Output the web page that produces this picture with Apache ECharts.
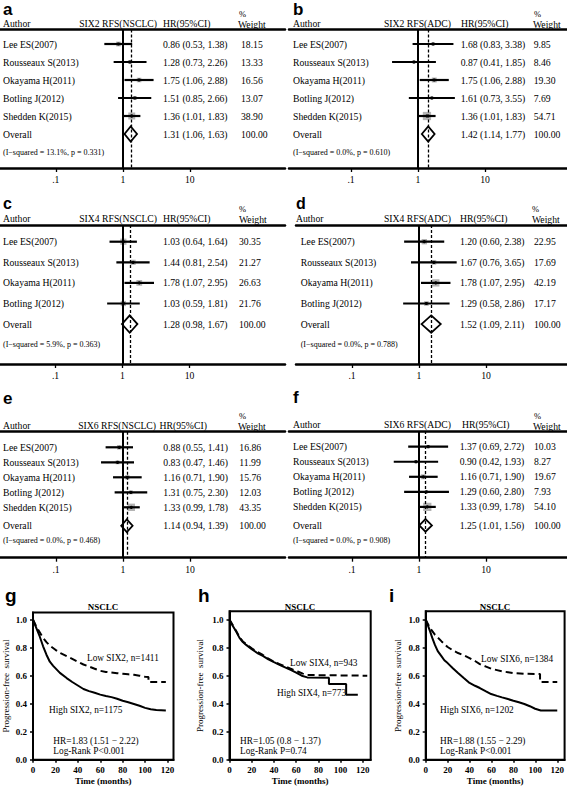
<!DOCTYPE html>
<html><head><meta charset="utf-8">
<script src="https://cdn.jsdelivr.net/npm/echarts@6/dist/echarts.min.js"></script>
<style>html,body{margin:0;padding:0;background:#fff}#c{width:567px;height:788px}</style>
</head><body><div id="c"></div>
<script>
// ---------------- Forest plot data ----------------
const studies5 = ['Lee ES(2007)','Rousseaux S(2013)','Okayama H(2011)','Botling J(2012)','Shedden K(2015)'];
const studies4 = ['Lee ES(2007)','Rousseaux S(2013)','Okayama H(2011)','Botling J(2012)'];
const forestTicks = [0.1, 1, 10];
const forestTickLabels = ['.1', '1', '10'];
const overallWeight = 100.00;

// a: SIX2 RFS(NSCLC)
const aHR = [0.86, 1.28, 1.75, 1.51, 1.36];
const aLo = [0.53, 0.73, 1.06, 0.85, 1.01];
const aHi = [1.38, 2.26, 2.88, 2.66, 1.83];
const aW  = [18.15, 13.33, 16.56, 13.07, 38.90];
const aOverall = [1.31, 1.06, 1.63];
const aHet = '(I\u2212squared = 13.1%, p = 0.331)';
// b: SIX2 RFS(ADC)
const bHR = [1.68, 0.87, 1.75, 1.61, 1.36];
const bLo = [0.83, 0.41, 1.06, 0.73, 1.01];
const bHi = [3.38, 1.85, 2.88, 3.55, 1.83];
const bW  = [9.85, 8.46, 19.30, 7.69, 54.71];
const bOverall = [1.42, 1.14, 1.77];
const bHet = '(I\u2212squared = 0.0%, p = 0.610)';
// c: SIX4 RFS(NSCLC)
const cHR = [1.03, 1.44, 1.78, 1.03];
const cLo = [0.64, 0.81, 1.07, 0.59];
const cHi = [1.64, 2.54, 2.95, 1.81];
const cW  = [30.35, 21.27, 26.63, 21.76];
const cOverall = [1.28, 0.98, 1.67];
const cHet = '(I\u2212squared = 5.9%, p = 0.363)';
// d: SIX4 RFS(ADC)
const dHR = [1.20, 1.67, 1.78, 1.29];
const dLo = [0.60, 0.76, 1.07, 0.58];
const dHi = [2.38, 3.65, 2.95, 2.86];
const dW  = [22.95, 17.69, 42.19, 17.17];
const dOverall = [1.52, 1.09, 2.11];
const dHet = '(I\u2212squared = 0.0%, p = 0.788)';
// e: SIX6 RFS(NSCLC)
const eHR = [0.88, 0.83, 1.16, 1.31, 1.33];
const eLo = [0.55, 0.47, 0.71, 0.75, 0.99];
const eHi = [1.41, 1.46, 1.90, 2.30, 1.78];
const eW  = [16.86, 11.99, 15.76, 12.03, 43.35];
const eOverall = [1.14, 0.94, 1.39];
const eHet = '(I\u2212squared = 0.0%, p = 0.468)';
// f: SIX6 RFS(ADC)
const fHR = [1.37, 0.90, 1.16, 1.29, 1.33];
const fLo = [0.69, 0.42, 0.71, 0.60, 0.99];
const fHi = [2.72, 1.93, 1.90, 2.80, 1.78];
const fW  = [10.03, 8.27, 19.67, 7.93, 54.10];
const fOverall = [1.25, 1.01, 1.56];
const fHet = '(I\u2212squared = 0.0%, p = 0.908)';

// ---------------- Kaplan-Meier data ----------------
const kmXTicks = [0, 20, 40, 60, 80, 100, 120];
const kmYTicks = [0, 0.2, 0.4, 0.6, 0.8, 1.0];
const gLowT  = [0, 3, 6, 9, 12, 15, 20, 25, 30, 35, 40, 45, 50, 55, 60, 65, 70, 75, 80, 85, 90, 95, 100, 103, 103, 118.5];
const gLowS  = [1.0, 0.95, 0.91, 0.87, 0.84, 0.815, 0.785, 0.76, 0.74, 0.72, 0.70, 0.68, 0.665, 0.65, 0.635, 0.627, 0.622, 0.618, 0.614, 0.61, 0.606, 0.60, 0.592, 0.59, 0.555, 0.555];
const gHighT = [0, 2, 4, 6, 9, 12, 15, 18, 21, 24, 30, 35, 40, 45, 50, 55, 60, 65, 70, 75, 80, 85, 90, 95, 100, 105, 110, 118.5];
const gHighS = [1.0, 0.96, 0.92, 0.88, 0.81, 0.75, 0.70, 0.67, 0.645, 0.62, 0.583, 0.555, 0.53, 0.505, 0.49, 0.478, 0.465, 0.455, 0.447, 0.435, 0.421, 0.41, 0.398, 0.385, 0.37, 0.36, 0.355, 0.352];
const hLowT  = [0, 3, 6, 9, 12, 15, 20, 25, 30, 35, 40, 45, 50, 55, 58, 62, 66, 70, 124];
const hLowS  = [1.0, 0.96, 0.92, 0.875, 0.845, 0.825, 0.795, 0.77, 0.748, 0.722, 0.70, 0.683, 0.666, 0.65, 0.64, 0.628, 0.615, 0.605, 0.60];
const hHighT = [0, 3, 6, 9, 12, 15, 20, 25, 30, 35, 40, 45, 50, 55, 60, 65, 70, 89.5, 89.5, 105, 105, 115.5];
const hHighS = [1.0, 0.955, 0.915, 0.87, 0.84, 0.82, 0.79, 0.762, 0.742, 0.717, 0.697, 0.678, 0.66, 0.642, 0.622, 0.60, 0.588, 0.585, 0.54, 0.54, 0.464, 0.464];
const iLowT  = [0, 2, 4, 8.4, 14.5, 20, 25, 29.5, 35, 40, 45, 49.4, 55, 59.7, 65, 69.6, 75, 80, 90, 104.3, 104.3, 120];
const iLowS  = [1.0, 0.97, 0.94, 0.893, 0.845, 0.805, 0.78, 0.762, 0.745, 0.726, 0.705, 0.683, 0.665, 0.65, 0.64, 0.631, 0.625, 0.619, 0.614, 0.612, 0.555, 0.555];
const iHighT = [0, 2, 4, 6, 8.4, 11, 14.5, 17, 20, 25, 29.5, 35, 40, 45, 49.4, 55, 59.7, 65, 69.6, 75, 80, 85, 90, 95, 99.8, 105, 120];
const iHighS = [1.0, 0.96, 0.917, 0.87, 0.82, 0.775, 0.738, 0.71, 0.69, 0.652, 0.62, 0.582, 0.548, 0.528, 0.512, 0.488, 0.469, 0.456, 0.445, 0.433, 0.421, 0.41, 0.398, 0.382, 0.364, 0.352, 0.352];

// ---------------- Layout ----------------
const SERIF = '"Liberation Serif","Times New Roman",serif';
const SANS = '"Liberation Sans",Arial,sans-serif';
const DEC = 67; // px per decade on forest axes

const forestPanels = [
  {letter:'a', title:'SIX2 RFS(NSCLC)', studies:studies5, hr:aHR, lo:aLo, hi:aHi, w:aW, overall:aOverall, het:aHet,
   L:{left:0, right:285, top:29.5, bottom:168, xOne:122.8, row0:44, step:18, rows:[0,1,2,3,4,5,6], cols:[3,163,241],
      letterXY:[3,9], letterSize:17, authorXY:[3,23], titleR:157, hrHead:163, pctXY:[239,14], wXY:[238,24]}},
  {letter:'b', title:'SIX2 RFS(ADC)', studies:studies5, hr:bHR, lo:bLo, hi:bHi, w:bW, overall:bOverall, het:bHet,
   L:{left:289, right:567, top:29.5, bottom:168, xOne:418, row0:44, step:18, rows:[0,1,2,3,4,5,6], cols:[293,460.7,533.7],
      letterXY:[293,9], letterSize:17, authorXY:[293,23], titleR:451, hrHead:461, pctXY:[534,14], wXY:[533,24]}},
  {letter:'c', title:'SIX4 RFS(NSCLC)', studies:studies4, hr:cHR, lo:cLo, hi:cHi, w:cW, overall:cOverall, het:cHet,
   L:{left:0, right:285, top:225, bottom:364, xOne:122.5, row0:241.7, step:20.6, rows:[0,1,2,3,4,5], cols:[3,163,239],
      letterXY:[3,203], letterSize:16, authorXY:[3,218.5], titleR:157, hrHead:163, pctXY:[239,209], wXY:[239,219]}},
  {letter:'d', title:'SIX4 RFS(ADC)', studies:studies4, hr:dHR, lo:dLo, hi:dHi, w:dW, overall:dOverall, het:dHet,
   L:{left:296, right:567, top:225, bottom:364, xOne:419, row0:241.7, step:20.6, rows:[0,1,2,3,4,5], cols:[300.7,460,534],
      letterXY:[296,203], letterSize:16, authorXY:[296,218.5], titleR:451, hrHead:460, pctXY:[532,209], wXY:[532,219]}},
  {letter:'e', title:'SIX6 RFS(NSCLC)', studies:studies5, hr:eHR, lo:eLo, hi:eHi, w:eW, overall:eOverall, het:eHet,
   L:{left:0, right:285, top:431.7, bottom:557.7, xOne:123, row0:447.3, step:15, rows:[0,1,2,3,4,5.23,6.23], cols:[3,163.3,239.3],
      letterXY:[3,398], letterSize:17, authorXY:[3,425], titleR:156, hrHead:159.5, pctXY:[239,416], wXY:[238,426.5]}},
  {letter:'f', title:'SIX6 RFS(ADC)', studies:studies5, hr:fHR, lo:fLo, hi:fHi, w:fW, overall:fOverall, het:fHet,
   L:{left:289, right:567, top:431, bottom:557.7, xOne:419, row0:446.7, step:15.05, rows:[0,1,2,3,4,5.23,6.23], cols:[293,459.7,534],
      letterXY:[293,397], letterSize:17, authorXY:[293,424.3], titleR:451, hrHead:462, pctXY:[534,416], wXY:[533,426]}}
];

const kmPanels = [
  {letter:'g', low:[gLowT,gLowS], high:[gHighT,gHighS], lowText:'Low SIX2, n=1411', highText:'High SIX2, n=1175', hrText:'HR=1.83 (1.51 \u2212 2.22)', pText:'Log-Rank P<0.001',
   L:{left:32.5, right:173.5, top:612.5, bottom:759.7, pxPerMonth:1.125, letterXY:[5,595], titleX:103, nameGap:23,
      lowXY:[87,658], highXY:[49,709.7], hrXY:[53.3,741.3], pXY:[53.3,750.7]}},
  {letter:'h', low:[hLowT,hLowS], high:[hHighT,hHighS], lowText:'Low SIX4, n=943', highText:'High SIX4, n=773', hrText:'HR=1.05 (0.8 \u2212 1.37)', pText:'Log-Rank P=0.74',
   L:{left:229.5, right:370.7, top:611.3, bottom:759.7, pxPerMonth:1.111, letterXY:[198,595], titleX:300, nameGap:25,
      lowXY:[290,663], highXY:[277,693], hrXY:[240,741.3], pXY:[240,750.7]}},
  {letter:'i', low:[iLowT,iLowS], high:[iHighT,iHighS], lowText:'Low SIX6, n=1384', highText:'High SIX6, n=1202', hrText:'HR=1.88 (1.55 \u2212 2.29)', pText:'Log-Rank P<0.001',
   L:{left:425.7, right:565.7, top:611.3, bottom:759.7, pxPerMonth:1.105, letterXY:[389,595], titleX:495, nameGap:23.5,
      lowXY:[481,658.7], highXY:[440,709.7], hrXY:[440,741.3], pXY:[440,750.7]}}
];
const kmPxPerUnit = 140; // px per survival unit

// ---------------- Build option ----------------
const grids = [], xAxes = [], yAxes = [], series = [], graphics = [];
function T(x, y, text, o) {
  graphics.push({type:'text', x:x, y:y, silent:true,
    style:Object.assign({text:text, fill:'#000', fontFamily:SERIF, fontSize:9.7, verticalAlign:'middle', align:'left'}, o || {})});
}
const fmtCI = (h, l, u) => h.toFixed(2) + ' (' + l.toFixed(2) + ', ' + u.toFixed(2) + ')';

function addForest(p) {
  const L = p.L, gi = grids.length;
  grids.push({left:L.left, top:L.top, width:L.right - L.left, height:L.bottom - L.top});
  const xmin = -(L.xOne - L.left) / DEC, xmax = (L.right - L.xOne) / DEC;
  const ymin = -(L.row0 - L.top) / L.step, ymax = (L.bottom - L.row0) / L.step;
  const tickVals = forestTicks.map(v => Math.log10(v));
  const xi = xAxes.length;
  xAxes.push({gridIndex:gi, type:'value', position:'bottom', min:xmin, max:xmax,
    axisLine:{onZero:false, lineStyle:{color:'#000', width:2.5}},
    axisTick:{customValues:tickVals, length:4, lineStyle:{color:'#000', width:1.3}},
    axisLabel:{customValues:tickVals, margin:6.5, color:'#000', fontFamily:SERIF, fontSize:9.7,
      formatter:v => { const k = tickVals.findIndex(t => Math.abs(t - v) < 1e-6); return k >= 0 ? forestTickLabels[k] : ''; }},
    splitLine:{show:false}});
  xAxes.push({gridIndex:gi, type:'value', position:'top', min:xmin, max:xmax,
    axisLine:{onZero:false, lineStyle:{color:'#000', width:2.5}}, axisTick:{show:false}, axisLabel:{show:false}, splitLine:{show:false}});
  const yi = yAxes.length;
  yAxes.push({gridIndex:gi, type:'value', inverse:true, min:ymin, max:ymax, show:false});

  const items = [];
  p.hr.forEach((h, i) => items.push({name:p.studies[i], hrText:fmtCI(h, p.lo[i], p.hi[i]), wText:p.w[i].toFixed(2),
    value:[Math.log10(h), Math.log10(p.lo[i]), Math.log10(p.hi[i]), p.w[i], L.rows[i], 0]}));
  const n = p.hr.length;
  items.push({name:'Overall', hrText:fmtCI(p.overall[0], p.overall[1], p.overall[2]), wText:overallWeight.toFixed(2),
    value:[Math.log10(p.overall[0]), Math.log10(p.overall[1]), Math.log10(p.overall[2]), overallWeight, L.rows[n], 1]});
  items.push({name:p.het, hrText:'', wText:'', value:[0, 0, 0, 0, L.rows[n + 1], 2]});

  series.push({type:'custom', xAxisIndex:xi, yAxisIndex:yi, clip:false,
    encode:{x:[0, 1, 2], y:4},
    data:items.map(it => ({name:it.name, value:it.value})),
    renderItem:function (params, api) {
      const it = items[params.dataIndex];
      const kind = api.value(5), row = api.value(4);
      const py = api.coord([0, row])[1];
      const unit = api.size([0, 1])[1];
      const ch = [];
      const txt = (s, x, fs) => ({type:'text', x:x, y:py, silent:true,
        style:{text:s, fill:'#000', fontFamily:SERIF, fontSize:fs || 9.7, verticalAlign:'middle', align:'left'}});
      if (kind === 2) { ch.push(txt(it.name, L.cols[0], 8)); return {type:'group', children:ch}; }
      ch.push(txt(it.name, L.cols[0]));
      const xh = api.coord([api.value(0), row])[0];
      const xl = api.coord([api.value(1), row])[0];
      const xr = api.coord([api.value(2), row])[0];
      if (kind === 0) {
        const s = 1.12 * Math.sqrt(api.value(3));
        ch.push({type:'rect', shape:{x:xh - s / 2, y:py - s / 2, width:s, height:s}, style:{fill:'#b4b4b4'}});
        ch.push({type:'line', shape:{x1:xl, y1:py, x2:xr, y2:py}, style:{stroke:'#000', lineWidth:2.2}});
        ch.push({type:'circle', shape:{cx:xh, cy:py, r:1.6}, style:{fill:'#000'}});
      } else {
        const hh = 0.42 * unit;
        ch.push({type:'polygon', shape:{points:[[xl, py], [xh, py - hh], [xr, py], [xh, py + hh]]},
          style:{fill:'none', stroke:'#000', lineWidth:1.8}});
      }
      ch.push(txt(it.hrText, L.cols[1]));
      ch.push(txt(it.wText, L.cols[2]));
      return {type:'group', children:ch};
    },
    markLine:{silent:true, symbol:'none', animation:false, label:{show:false},
      data:[
        {xAxis:0, lineStyle:{color:'#000', width:2, type:'solid'}},
        {xAxis:Math.log10(p.overall[0]), lineStyle:{color:'#000', width:1.3, type:[3, 2]}}
      ]}
  });

  // headers
  T(L.letterXY[0], L.letterXY[1], p.letter, {fontFamily:SANS, fontWeight:'bold', fontSize:L.letterSize});
  T(L.authorXY[0], L.authorXY[1], 'Author');
  T(L.titleR, L.authorXY[1], p.title, {align:'right'});
  T(L.hrHead, L.authorXY[1], 'HR(95%CI)');
  T(L.pctXY[0], L.pctXY[1], '%', {fontSize:8.5});
  T(L.wXY[0], L.wXY[1], 'Weight');
}

function addKM(k) {
  const L = k.L, gi = grids.length;
  grids.push({left:L.left, top:L.top, width:L.right - L.left, height:L.bottom - L.top,
    show:true, borderColor:'#000', borderWidth:2, backgroundColor:'transparent'});
  const xmax = (L.right - L.left) / L.pxPerMonth;
  const ymax = (L.bottom - L.top) / kmPxPerUnit;
  const xi = xAxes.length, yi = yAxes.length;
  xAxes.push({gridIndex:gi, type:'value', min:0, max:xmax,
    axisLine:{onZero:false, lineStyle:{color:'#000', width:2}},
    axisTick:{customValues:kmXTicks, length:3, lineStyle:{color:'#000', width:1.5}},
    axisLabel:{customValues:kmXTicks, margin:6, color:'#000', fontFamily:SERIF, fontSize:9, fontWeight:'bold'},
    splitLine:{show:false},
    name:'Time (months)', nameLocation:'middle', nameGap:17,
    nameTextStyle:{color:'#000', fontFamily:SERIF, fontSize:9, fontWeight:'bold'}});
  yAxes.push({gridIndex:gi, type:'value', min:0, max:ymax,
    axisLine:{onZero:false, lineStyle:{color:'#000', width:2}},
    axisTick:{customValues:kmYTicks, length:3, lineStyle:{color:'#000', width:1.5}},
    axisLabel:{customValues:kmYTicks, margin:6, color:'#000', fontFamily:SERIF, fontSize:9, fontWeight:'bold',
      formatter:v => v.toFixed(1)},
    splitLine:{show:false},
    name:'Progression-free  survival', nameLocation:'middle', nameGap:L.nameGap,
    nameTextStyle:{color:'#000', fontFamily:SERIF, fontSize:9}});
  const pairs = (t, s) => t.map((x, j) => [x, s[j]]);
  series.push({type:'line', xAxisIndex:xi, yAxisIndex:yi, data:pairs(k.low[0], k.low[1]), symbol:'none', showSymbol:false,
    lineStyle:{color:'#000', width:2, type:[7, 4]}, silent:true});
  series.push({type:'line', xAxisIndex:xi, yAxisIndex:yi, data:pairs(k.high[0], k.high[1]), symbol:'none', showSymbol:false,
    lineStyle:{color:'#000', width:2, type:'solid'}, silent:true});

  T(L.letterXY[0], L.letterXY[1], k.letter, {fontFamily:SANS, fontWeight:'bold', fontSize:19});
  T(L.titleX, 607.3, 'NSCLC', {align:'center', fontWeight:'bold', fontSize:9});
  T(L.lowXY[0], L.lowXY[1], k.lowText, {fontSize:9.3});
  T(L.highXY[0], L.highXY[1], k.highText, {fontSize:9.3});
  T(L.hrXY[0], L.hrXY[1], k.hrText, {fontSize:9.3});
  T(L.pXY[0], L.pXY[1], k.pText, {fontSize:9.3});
}

forestPanels.forEach(addForest);
kmPanels.forEach(addKM);

const chart = echarts.init(document.getElementById('c'), null, {renderer:'svg', width:567, height:788});
chart.setOption({
  animation:false,
  backgroundColor:'#fff',
  textStyle:{fontFamily:SERIF},
  grid:grids, xAxis:xAxes, yAxis:yAxes, series:series, graphic:graphics
});
</script>
</body></html>
